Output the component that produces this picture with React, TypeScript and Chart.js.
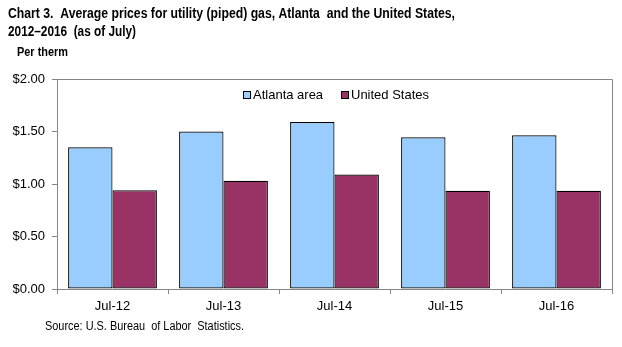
import React, { useEffect, useRef } from "react";
import { Chart, registerables } from "chart.js";

Chart.register(...registerables);

const categories = ["Jul-12", "Jul-13", "Jul-14", "Jul-15", "Jul-16"];
const atlantaValues = [1.35, 1.5, 1.59, 1.445, 1.465];
const usValues = [0.94, 1.03, 1.09, 0.935, 0.935];
const seriesNames = ["Atlanta area", "United States"];
const titleLines = [
  "Chart 3.  Average prices for utility (piped) gas, Atlanta  and the United States,",
  "2012\u20132016  (as of July)",
];
const unitLabel = "Per therm";
const sourceText = "Source: U.S. Bureau  of Labor  Statistics.";

const FONT = "Arial, 'Liberation Sans', sans-serif";
const AXIS_GRAY = "#868686";

function fillTextW(ctx: any, text: string, x: number, y: number, w: number) {
  const m = ctx.measureText(text).width;
  const s = Math.min(1.2, w / m);
  ctx.save();
  ctx.translate(x, y);
  ctx.scale(s, 1);
  ctx.fillText(text, 0, 0);
  ctx.restore();
}

const decorPlugin = {
  id: "decor",
  afterDraw(chart: any) {
    const ctx = chart.ctx;
    const a = chart.chartArea;
    ctx.save();
    // plot border
    ctx.strokeStyle = AXIS_GRAY;
    ctx.lineWidth = 1;
    ctx.beginPath();
    ctx.moveTo(a.left + 0.5, a.top + 0.5);
    ctx.lineTo(a.right + 0.5, a.top + 0.5);
    ctx.lineTo(a.right + 0.5, a.bottom + 0.5);
    ctx.stroke();

    // title
    ctx.fillStyle = "#000";
    ctx.textBaseline = "middle";
    ctx.textAlign = "left";
    ctx.font = `bold 14px ${FONT}`;
    fillTextW(ctx, titleLines[0], 8, 14, 447);
    fillTextW(ctx, titleLines[1], 8, 32, 128);
    ctx.font = `bold 12px ${FONT}`;
    fillTextW(ctx, unitLabel, 17, 53, 51);
    ctx.font = `12px ${FONT}`;
    fillTextW(ctx, sourceText, 45, 327, 199);

    // legend
    const ds = chart.data.datasets;
    const xs = [243, 341];
    ctx.font = `13px ${FONT}`;
    ds.forEach((d: any, i: number) => {
      const x = xs[i];
      const y = 95;
      ctx.fillStyle = d.backgroundColor;
      ctx.fillRect(x, y - 4, 7, 7);
      ctx.strokeStyle = "#000";
      ctx.strokeRect(x + 0.5, y - 3.5, 7, 7);
      ctx.fillStyle = "#000";
      ctx.fillText(d.label, x + 10, y);
    });
    ctx.restore();
  },
};

export default function App() {
  const ref = useRef<HTMLCanvasElement | null>(null);
  useEffect(() => {
    if (!ref.current) return;
    const chart = new Chart(ref.current, {
      type: "bar",
      data: {
        labels: categories,
        datasets: [
          {
            label: seriesNames[0],
            data: atlantaValues,
            backgroundColor: "#99CCFF",
            borderColor: "#000000",
            borderWidth: 1.2,
            borderSkipped: false,
          },
          {
            label: seriesNames[1],
            data: usValues,
            backgroundColor: "#993366",
            borderColor: "#000000",
            borderWidth: 1.2,
            borderSkipped: false,
          },
        ],
      },
      options: {
        animation: false,
        responsive: false,
        maintainAspectRatio: false,
        layout: { padding: { top: 79, right: 10, left: 0, bottom: 0 } },
        plugins: {
          legend: { display: false },
          title: { display: false },
          tooltip: { enabled: false },
        },
        datasets: { bar: { categoryPercentage: 0.8, barPercentage: 1 } },
        scales: {
          x: {
            offset: true,
            grid: {
              offset: true,
              drawOnChartArea: false,
              drawTicks: true,
              tickLength: 5,
              color: AXIS_GRAY,
            },
            border: { display: true, color: AXIS_GRAY, width: 1 },
            ticks: {
              color: "#000",
              font: { family: FONT, size: 13 },
              padding: 5,
              maxRotation: 0,
            },
            afterFit: (s: any) => {
              s.height = 58;
            },
          },
          y: {
            min: 0,
            max: 2,
            grid: {
              drawOnChartArea: false,
              drawTicks: true,
              tickLength: 5,
              color: AXIS_GRAY,
            },
            border: { display: true, color: AXIS_GRAY, width: 1 },
            ticks: {
              stepSize: 0.5,
              color: "#000",
              font: { family: FONT, size: 13 },
              padding: 7,
              callback: (v: any) => "$" + Number(v).toFixed(2),
            },
            afterFit: (s: any) => {
              s.width = 57;
            },
          },
        },
      },
      plugins: [decorPlugin],
    });
    return () => chart.destroy();
  }, []);
  return (
    <div style={{ position: "fixed", left: 0, top: 0, width: 622, height: 347, background: "#fff" }}>
      <canvas ref={ref} width={622} height={347} style={{ display: "block", width: 622, height: 347 }} />
    </div>
  );
}
